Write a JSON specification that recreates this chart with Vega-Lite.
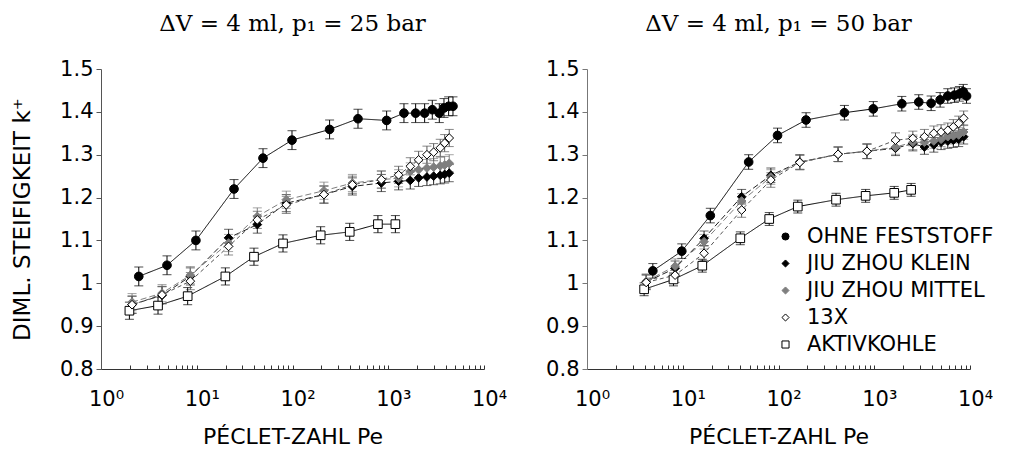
{
  "$schema": "https://vega.github.io/schema/vega-lite/v6.json",
  "background": "white",
  "padding": {"left": 11, "top": 13, "right": 5, "bottom": 3},
  "bounds": "flush",
  "spacing": 103,
  "config": {
    "view": {"stroke": null},
    "font": "DejaVu Sans",
    "axis": {"grid": false, "labelColor": "black", "titleColor": "black", "titleFontWeight": "normal", "labelFont": "DejaVu Sans", "titleFont": "DejaVu Sans"}
  },
  "data": {"values": [
    {"panel": "L", "series": "OHNE FESTSTOFF", "pe": 2.48, "k": 1.016, "err": 0.022},
    {"panel": "L", "series": "OHNE FESTSTOFF", "pe": 4.89, "k": 1.042, "err": 0.022},
    {"panel": "L", "series": "OHNE FESTSTOFF", "pe": 9.8, "k": 1.1, "err": 0.022},
    {"panel": "L", "series": "OHNE FESTSTOFF", "pe": 24.5, "k": 1.22, "err": 0.022},
    {"panel": "L", "series": "OHNE FESTSTOFF", "pe": 49.2, "k": 1.292, "err": 0.022},
    {"panel": "L", "series": "OHNE FESTSTOFF", "pe": 98.8, "k": 1.334, "err": 0.022},
    {"panel": "L", "series": "OHNE FESTSTOFF", "pe": 244, "k": 1.359, "err": 0.022},
    {"panel": "L", "series": "OHNE FESTSTOFF", "pe": 483, "k": 1.384, "err": 0.022},
    {"panel": "L", "series": "OHNE FESTSTOFF", "pe": 962, "k": 1.38, "err": 0.022},
    {"panel": "L", "series": "OHNE FESTSTOFF", "pe": 1459, "k": 1.397, "err": 0.022},
    {"panel": "L", "series": "OHNE FESTSTOFF", "pe": 1932, "k": 1.397, "err": 0.022},
    {"panel": "L", "series": "OHNE FESTSTOFF", "pe": 2399, "k": 1.397, "err": 0.022},
    {"panel": "L", "series": "OHNE FESTSTOFF", "pe": 2884, "k": 1.405, "err": 0.022},
    {"panel": "L", "series": "OHNE FESTSTOFF", "pe": 3413, "k": 1.397, "err": 0.022},
    {"panel": "L", "series": "OHNE FESTSTOFF", "pe": 3820, "k": 1.409, "err": 0.022},
    {"panel": "L", "series": "OHNE FESTSTOFF", "pe": 4272, "k": 1.413, "err": 0.022},
    {"panel": "L", "series": "OHNE FESTSTOFF", "pe": 4743, "k": 1.413, "err": 0.022},
    {"panel": "L", "series": "AKTIVKOHLE", "pe": 1.98, "k": 0.936, "err": 0.02},
    {"panel": "L", "series": "AKTIVKOHLE", "pe": 3.94, "k": 0.948, "err": 0.02},
    {"panel": "L", "series": "AKTIVKOHLE", "pe": 8.04, "k": 0.97, "err": 0.02},
    {"panel": "L", "series": "AKTIVKOHLE", "pe": 19.9, "k": 1.016, "err": 0.02},
    {"panel": "L", "series": "AKTIVKOHLE", "pe": 39.6, "k": 1.062, "err": 0.02},
    {"panel": "L", "series": "AKTIVKOHLE", "pe": 79.6, "k": 1.093, "err": 0.02},
    {"panel": "L", "series": "AKTIVKOHLE", "pe": 197, "k": 1.112, "err": 0.02},
    {"panel": "L", "series": "AKTIVKOHLE", "pe": 396, "k": 1.12, "err": 0.02},
    {"panel": "L", "series": "AKTIVKOHLE", "pe": 780, "k": 1.138, "err": 0.02},
    {"panel": "L", "series": "AKTIVKOHLE", "pe": 1187, "k": 1.138, "err": 0.02},
    {"panel": "L", "series": "JIU ZHOU KLEIN", "pe": 2.11, "k": 0.95, "err": 0.02},
    {"panel": "L", "series": "JIU ZHOU KLEIN", "pe": 4.34, "k": 0.972, "err": 0.02},
    {"panel": "L", "series": "JIU ZHOU KLEIN", "pe": 8.57, "k": 1.016, "err": 0.02},
    {"panel": "L", "series": "JIU ZHOU KLEIN", "pe": 21.5, "k": 1.106, "err": 0.02},
    {"panel": "L", "series": "JIU ZHOU KLEIN", "pe": 42.9, "k": 1.137, "err": 0.02},
    {"panel": "L", "series": "JIU ZHOU KLEIN", "pe": 86.1, "k": 1.187, "err": 0.02},
    {"panel": "L", "series": "JIU ZHOU KLEIN", "pe": 213, "k": 1.207, "err": 0.02},
    {"panel": "L", "series": "JIU ZHOU KLEIN", "pe": 422, "k": 1.226, "err": 0.02},
    {"panel": "L", "series": "JIU ZHOU KLEIN", "pe": 847, "k": 1.234, "err": 0.02},
    {"panel": "L", "series": "JIU ZHOU KLEIN", "pe": 1282, "k": 1.238, "err": 0.02},
    {"panel": "L", "series": "JIU ZHOU KLEIN", "pe": 1698, "k": 1.24, "err": 0.02},
    {"panel": "L", "series": "JIU ZHOU KLEIN", "pe": 2076, "k": 1.246, "err": 0.02},
    {"panel": "L", "series": "JIU ZHOU KLEIN", "pe": 2535, "k": 1.248, "err": 0.02},
    {"panel": "L", "series": "JIU ZHOU KLEIN", "pe": 2978, "k": 1.25, "err": 0.02},
    {"panel": "L", "series": "JIU ZHOU KLEIN", "pe": 3491, "k": 1.252, "err": 0.02},
    {"panel": "L", "series": "JIU ZHOU KLEIN", "pe": 3882, "k": 1.254, "err": 0.02},
    {"panel": "L", "series": "JIU ZHOU KLEIN", "pe": 4335, "k": 1.257, "err": 0.02},
    {"panel": "L", "series": "JIU ZHOU MITTEL", "pe": 2.11, "k": 0.956, "err": 0.02},
    {"panel": "L", "series": "JIU ZHOU MITTEL", "pe": 4.34, "k": 0.977, "err": 0.02},
    {"panel": "L", "series": "JIU ZHOU MITTEL", "pe": 8.57, "k": 1.019, "err": 0.02},
    {"panel": "L", "series": "JIU ZHOU MITTEL", "pe": 21.5, "k": 1.094, "err": 0.02},
    {"panel": "L", "series": "JIU ZHOU MITTEL", "pe": 42.9, "k": 1.156, "err": 0.02},
    {"panel": "L", "series": "JIU ZHOU MITTEL", "pe": 86.1, "k": 1.195, "err": 0.02},
    {"panel": "L", "series": "JIU ZHOU MITTEL", "pe": 213, "k": 1.216, "err": 0.02},
    {"panel": "L", "series": "JIU ZHOU MITTEL", "pe": 422, "k": 1.234, "err": 0.02},
    {"panel": "L", "series": "JIU ZHOU MITTEL", "pe": 847, "k": 1.242, "err": 0.02},
    {"panel": "L", "series": "JIU ZHOU MITTEL", "pe": 1282, "k": 1.245, "err": 0.02},
    {"panel": "L", "series": "JIU ZHOU MITTEL", "pe": 1698, "k": 1.261, "err": 0.02},
    {"panel": "L", "series": "JIU ZHOU MITTEL", "pe": 2076, "k": 1.265, "err": 0.02},
    {"panel": "L", "series": "JIU ZHOU MITTEL", "pe": 2535, "k": 1.269, "err": 0.02},
    {"panel": "L", "series": "JIU ZHOU MITTEL", "pe": 2978, "k": 1.271, "err": 0.02},
    {"panel": "L", "series": "JIU ZHOU MITTEL", "pe": 3491, "k": 1.274, "err": 0.02},
    {"panel": "L", "series": "JIU ZHOU MITTEL", "pe": 3882, "k": 1.276, "err": 0.02},
    {"panel": "L", "series": "JIU ZHOU MITTEL", "pe": 4335, "k": 1.28, "err": 0.02},
    {"panel": "L", "series": "13X", "pe": 2.11, "k": 0.95, "err": 0.02},
    {"panel": "L", "series": "13X", "pe": 4.34, "k": 0.973, "err": 0.02},
    {"panel": "L", "series": "13X", "pe": 8.57, "k": 1.005, "err": 0.02},
    {"panel": "L", "series": "13X", "pe": 21.5, "k": 1.086, "err": 0.02},
    {"panel": "L", "series": "13X", "pe": 42.9, "k": 1.148, "err": 0.02},
    {"panel": "L", "series": "13X", "pe": 86.1, "k": 1.183, "err": 0.02},
    {"panel": "L", "series": "13X", "pe": 213, "k": 1.207, "err": 0.02},
    {"panel": "L", "series": "13X", "pe": 422, "k": 1.23, "err": 0.02},
    {"panel": "L", "series": "13X", "pe": 847, "k": 1.242, "err": 0.02},
    {"panel": "L", "series": "13X", "pe": 1282, "k": 1.253, "err": 0.02},
    {"panel": "L", "series": "13X", "pe": 1698, "k": 1.273, "err": 0.02},
    {"panel": "L", "series": "13X", "pe": 2076, "k": 1.288, "err": 0.02},
    {"panel": "L", "series": "13X", "pe": 2535, "k": 1.3, "err": 0.02},
    {"panel": "L", "series": "13X", "pe": 2978, "k": 1.306, "err": 0.02},
    {"panel": "L", "series": "13X", "pe": 3491, "k": 1.316, "err": 0.02},
    {"panel": "L", "series": "13X", "pe": 3882, "k": 1.327, "err": 0.02},
    {"panel": "L", "series": "13X", "pe": 4335, "k": 1.339, "err": 0.02},
    {"panel": "R", "series": "OHNE FESTSTOFF", "pe": 4.87, "k": 1.029, "err": 0.017},
    {"panel": "R", "series": "OHNE FESTSTOFF", "pe": 9.77, "k": 1.075, "err": 0.017},
    {"panel": "R", "series": "OHNE FESTSTOFF", "pe": 19.4, "k": 1.158, "err": 0.017},
    {"panel": "R", "series": "OHNE FESTSTOFF", "pe": 48.8, "k": 1.283, "err": 0.017},
    {"panel": "R", "series": "OHNE FESTSTOFF", "pe": 97.7, "k": 1.345, "err": 0.017},
    {"panel": "R", "series": "OHNE FESTSTOFF", "pe": 194, "k": 1.381, "err": 0.017},
    {"panel": "R", "series": "OHNE FESTSTOFF", "pe": 488, "k": 1.398, "err": 0.017},
    {"panel": "R", "series": "OHNE FESTSTOFF", "pe": 977, "k": 1.407, "err": 0.017},
    {"panel": "R", "series": "OHNE FESTSTOFF", "pe": 1941, "k": 1.419, "err": 0.017},
    {"panel": "R", "series": "OHNE FESTSTOFF", "pe": 2917, "k": 1.423, "err": 0.017},
    {"panel": "R", "series": "OHNE FESTSTOFF", "pe": 3926, "k": 1.42, "err": 0.017},
    {"panel": "R", "series": "OHNE FESTSTOFF", "pe": 4875, "k": 1.428, "err": 0.017},
    {"panel": "R", "series": "OHNE FESTSTOFF", "pe": 5861, "k": 1.437, "err": 0.017},
    {"panel": "R", "series": "OHNE FESTSTOFF", "pe": 6871, "k": 1.439, "err": 0.017},
    {"panel": "R", "series": "OHNE FESTSTOFF", "pe": 7745, "k": 1.442, "err": 0.017},
    {"panel": "R", "series": "OHNE FESTSTOFF", "pe": 8500, "k": 1.447, "err": 0.017},
    {"panel": "R", "series": "OHNE FESTSTOFF", "pe": 9200, "k": 1.437, "err": 0.017},
    {"panel": "R", "series": "AKTIVKOHLE", "pe": 3.95, "k": 0.986, "err": 0.015},
    {"panel": "R", "series": "AKTIVKOHLE", "pe": 8.0, "k": 1.009, "err": 0.015},
    {"panel": "R", "series": "AKTIVKOHLE", "pe": 16.0, "k": 1.041, "err": 0.015},
    {"panel": "R", "series": "AKTIVKOHLE", "pe": 39.9, "k": 1.105, "err": 0.015},
    {"panel": "R", "series": "AKTIVKOHLE", "pe": 80.0, "k": 1.15, "err": 0.015},
    {"panel": "R", "series": "AKTIVKOHLE", "pe": 159, "k": 1.179, "err": 0.015},
    {"panel": "R", "series": "AKTIVKOHLE", "pe": 399, "k": 1.195, "err": 0.015},
    {"panel": "R", "series": "AKTIVKOHLE", "pe": 813, "k": 1.204, "err": 0.015},
    {"panel": "R", "series": "AKTIVKOHLE", "pe": 1616, "k": 1.211, "err": 0.015},
    {"panel": "R", "series": "AKTIVKOHLE", "pe": 2427, "k": 1.218, "err": 0.015},
    {"panel": "R", "series": "JIU ZHOU KLEIN", "pe": 4.15, "k": 1.003, "err": 0.017},
    {"panel": "R", "series": "JIU ZHOU KLEIN", "pe": 8.32, "k": 1.035, "err": 0.017},
    {"panel": "R", "series": "JIU ZHOU KLEIN", "pe": 16.7, "k": 1.105, "err": 0.017},
    {"panel": "R", "series": "JIU ZHOU KLEIN", "pe": 41.2, "k": 1.202, "err": 0.017},
    {"panel": "R", "series": "JIU ZHOU KLEIN", "pe": 83.2, "k": 1.252, "err": 0.017},
    {"panel": "R", "series": "JIU ZHOU KLEIN", "pe": 167, "k": 1.283, "err": 0.017},
    {"panel": "R", "series": "JIU ZHOU KLEIN", "pe": 419, "k": 1.301, "err": 0.017},
    {"panel": "R", "series": "JIU ZHOU KLEIN", "pe": 839, "k": 1.308, "err": 0.017},
    {"panel": "R", "series": "JIU ZHOU KLEIN", "pe": 1667, "k": 1.315, "err": 0.017},
    {"panel": "R", "series": "JIU ZHOU KLEIN", "pe": 2529, "k": 1.326, "err": 0.017},
    {"panel": "R", "series": "JIU ZHOU KLEIN", "pe": 3342, "k": 1.318, "err": 0.017},
    {"panel": "R", "series": "JIU ZHOU KLEIN", "pe": 4188, "k": 1.323, "err": 0.017},
    {"panel": "R", "series": "JIU ZHOU KLEIN", "pe": 4989, "k": 1.329, "err": 0.017},
    {"panel": "R", "series": "JIU ZHOU KLEIN", "pe": 5861, "k": 1.332, "err": 0.017},
    {"panel": "R", "series": "JIU ZHOU KLEIN", "pe": 6699, "k": 1.334, "err": 0.017},
    {"panel": "R", "series": "JIU ZHOU KLEIN", "pe": 7621, "k": 1.336, "err": 0.017},
    {"panel": "R", "series": "JIU ZHOU KLEIN", "pe": 8590, "k": 1.342, "err": 0.017},
    {"panel": "R", "series": "JIU ZHOU MITTEL", "pe": 4.15, "k": 1.005, "err": 0.017},
    {"panel": "R", "series": "JIU ZHOU MITTEL", "pe": 8.32, "k": 1.04, "err": 0.017},
    {"panel": "R", "series": "JIU ZHOU MITTEL", "pe": 16.7, "k": 1.097, "err": 0.017},
    {"panel": "R", "series": "JIU ZHOU MITTEL", "pe": 41.2, "k": 1.192, "err": 0.017},
    {"panel": "R", "series": "JIU ZHOU MITTEL", "pe": 83.2, "k": 1.248, "err": 0.017},
    {"panel": "R", "series": "JIU ZHOU MITTEL", "pe": 167, "k": 1.282, "err": 0.017},
    {"panel": "R", "series": "JIU ZHOU MITTEL", "pe": 419, "k": 1.301, "err": 0.017},
    {"panel": "R", "series": "JIU ZHOU MITTEL", "pe": 839, "k": 1.308, "err": 0.017},
    {"panel": "R", "series": "JIU ZHOU MITTEL", "pe": 1667, "k": 1.318, "err": 0.017},
    {"panel": "R", "series": "JIU ZHOU MITTEL", "pe": 2529, "k": 1.329, "err": 0.017},
    {"panel": "R", "series": "JIU ZHOU MITTEL", "pe": 3342, "k": 1.329, "err": 0.017},
    {"panel": "R", "series": "JIU ZHOU MITTEL", "pe": 4188, "k": 1.332, "err": 0.017},
    {"panel": "R", "series": "JIU ZHOU MITTEL", "pe": 4989, "k": 1.336, "err": 0.017},
    {"panel": "R", "series": "JIU ZHOU MITTEL", "pe": 5861, "k": 1.342, "err": 0.017},
    {"panel": "R", "series": "JIU ZHOU MITTEL", "pe": 6699, "k": 1.344, "err": 0.017},
    {"panel": "R", "series": "JIU ZHOU MITTEL", "pe": 7621, "k": 1.346, "err": 0.017},
    {"panel": "R", "series": "JIU ZHOU MITTEL", "pe": 8590, "k": 1.353, "err": 0.017},
    {"panel": "R", "series": "13X", "pe": 4.15, "k": 1.002, "err": 0.017},
    {"panel": "R", "series": "13X", "pe": 8.32, "k": 1.019, "err": 0.017},
    {"panel": "R", "series": "13X", "pe": 16.7, "k": 1.07, "err": 0.017},
    {"panel": "R", "series": "13X", "pe": 41.2, "k": 1.171, "err": 0.017},
    {"panel": "R", "series": "13X", "pe": 83.2, "k": 1.241, "err": 0.017},
    {"panel": "R", "series": "13X", "pe": 167, "k": 1.282, "err": 0.017},
    {"panel": "R", "series": "13X", "pe": 419, "k": 1.301, "err": 0.017},
    {"panel": "R", "series": "13X", "pe": 839, "k": 1.308, "err": 0.017},
    {"panel": "R", "series": "13X", "pe": 1667, "k": 1.334, "err": 0.017},
    {"panel": "R", "series": "13X", "pe": 2529, "k": 1.338, "err": 0.017},
    {"panel": "R", "series": "13X", "pe": 3342, "k": 1.342, "err": 0.017},
    {"panel": "R", "series": "13X", "pe": 4188, "k": 1.35, "err": 0.017},
    {"panel": "R", "series": "13X", "pe": 4989, "k": 1.353, "err": 0.017},
    {"panel": "R", "series": "13X", "pe": 5861, "k": 1.357, "err": 0.017},
    {"panel": "R", "series": "13X", "pe": 6699, "k": 1.365, "err": 0.017},
    {"panel": "R", "series": "13X", "pe": 7621, "k": 1.373, "err": 0.017},
    {"panel": "R", "series": "13X", "pe": 8590, "k": 1.385, "err": 0.017}
  ]},
  "hconcat": [
    {
      "width": 383,
      "height": 300,
      "title": {"text": "ΔV = 4 ml, p₁ = 25 bar", "font": "DejaVu Serif", "fontSize": 23, "fontWeight": "normal", "color": "black", "offset": 22},
      "transform": [{"filter": "datum.panel == 'L'"}],
      "encoding": {
        "x": {"field": "pe", "type": "quantitative", "scale": {"type": "log", "domain": [1, 10000]},
          "axis": {"values": [1,2,3,4,5,6,7,8,9,10,20,30,40,50,60,70,80,90,100,200,300,400,500,600,700,800,900,1000,2000,3000,4000,5000,6000,7000,8000,9000,10000],
            "labelExpr": "datum.value == 1 ? '10⁰' : datum.value == 10 ? '10¹' : datum.value == 100 ? '10²' : datum.value == 1000 ? '10³' : datum.value == 10000 ? '10⁴' : ''",
            "labelFlush": false, "labelOverlap": false, "labelFontSize": 21, "labelOffset": 5, "labelPadding": 23,
            "tickSize": -4, "tickColor": "#333", "domainColor": "#333",
            "title": "PÉCLET-ZAHL Pe", "titleFontSize": 22, "titlePadding": 17}},
        "y": {"field": "k", "type": "quantitative", "scale": {"domain": [0.8, 1.5], "nice": false, "zero": false},
          "axis": {"values": [0.8, 0.9, 1, 1.1, 1.2, 1.3, 1.4, 1.5], "labelExpr": "format(datum.value, '~g')",
            "labelFontSize": 21, "labelPadding": 3, "tickSize": 5, "tickColor": "#555", "domainColor": "#555",
            "title": "DIML. STEIFIGKEIT k⁺", "titleFontSize": 23, "titlePadding": 25}}
      },
      "layer": [
        {"mark": {"type": "line", "strokeWidth": 1},
          "encoding": {
            "color": {"field": "series", "type": "nominal", "legend": null, "scale": {"domain": ["AKTIVKOHLE", "13X", "JIU ZHOU MITTEL", "JIU ZHOU KLEIN", "OHNE FESTSTOFF"], "range": ["black", "#555555", "#7f7f7f", "#222222", "black"]}},
            "strokeDash": {"field": "series", "type": "nominal", "legend": null, "scale": {"domain": ["AKTIVKOHLE", "13X", "JIU ZHOU MITTEL", "JIU ZHOU KLEIN", "OHNE FESTSTOFF"], "range": [[1, 0], [4, 3], [6, 3], [6, 3], [1, 0]]}}
          }},
        {"mark": {"type": "errorbar", "ticks": {"size": 9}, "thickness": 1},
          "encoding": {
            "yError": {"field": "err"},
            "color": {"field": "series", "type": "nominal", "legend": null}
          }},
        {"mark": {"type": "point", "filled": true, "size": 75, "opacity": 1, "strokeWidth": 1},
          "encoding": {
            "shape": {"field": "series", "type": "nominal", "title": null, "scale": {"domain": ["OHNE FESTSTOFF", "JIU ZHOU KLEIN", "JIU ZHOU MITTEL", "13X", "AKTIVKOHLE"], "range": ["circle", "diamond", "diamond", "diamond", "square"]},
              "legend": {"orient": "none", "legendX": 674, "legendY": 157, "labelFontSize": 21, "labelFont": "DejaVu Sans", "labelColor": "black", "labelLimit": 400, "symbolSize": 50, "rowPadding": 5, "labelOffset": 11, "symbolStrokeWidth": 1}},
            "fill": {"field": "series", "type": "nominal", "title": null, "scale": {"domain": ["OHNE FESTSTOFF", "JIU ZHOU KLEIN", "JIU ZHOU MITTEL", "13X", "AKTIVKOHLE"], "range": ["black", "black", "#7f7f7f", "white", "white"]},
              "legend": {"orient": "none", "legendX": 674, "legendY": 157, "labelFontSize": 21, "labelFont": "DejaVu Sans", "labelColor": "black", "labelLimit": 400, "symbolSize": 50, "rowPadding": 5, "labelOffset": 11, "symbolStrokeWidth": 1}},
            "stroke": {"field": "series", "type": "nominal", "title": null, "scale": {"domain": ["OHNE FESTSTOFF", "JIU ZHOU KLEIN", "JIU ZHOU MITTEL", "13X", "AKTIVKOHLE"], "range": ["black", "black", "#7f7f7f", "black", "black"]},
              "legend": {"orient": "none", "legendX": 674, "legendY": 157, "labelFontSize": 21, "labelFont": "DejaVu Sans", "labelColor": "black", "labelLimit": 400, "symbolSize": 50, "rowPadding": 5, "labelOffset": 11, "symbolStrokeWidth": 1}}
          }}
      ]
    },
    {
      "width": 383,
      "height": 300,
      "title": {"text": "ΔV = 4 ml, p₁ = 50 bar", "font": "DejaVu Serif", "fontSize": 23, "fontWeight": "normal", "color": "black", "offset": 22},
      "transform": [{"filter": "datum.panel == 'R'"}],
      "encoding": {
        "x": {"field": "pe", "type": "quantitative", "scale": {"type": "log", "domain": [1, 10000]},
          "axis": {"values": [1,2,3,4,5,6,7,8,9,10,20,30,40,50,60,70,80,90,100,200,300,400,500,600,700,800,900,1000,2000,3000,4000,5000,6000,7000,8000,9000,10000],
            "labelExpr": "datum.value == 1 ? '10⁰' : datum.value == 10 ? '10¹' : datum.value == 100 ? '10²' : datum.value == 1000 ? '10³' : datum.value == 10000 ? '10⁴' : ''",
            "labelFlush": false, "labelOverlap": false, "labelFontSize": 21, "labelOffset": 5, "labelPadding": 23,
            "tickSize": -4, "tickColor": "#333", "domainColor": "#333",
            "title": "PÉCLET-ZAHL Pe", "titleFontSize": 22, "titlePadding": 17}},
        "y": {"field": "k", "type": "quantitative", "scale": {"domain": [0.8, 1.5], "nice": false, "zero": false},
          "axis": {"values": [0.8, 0.9, 1, 1.1, 1.2, 1.3, 1.4, 1.5], "labelExpr": "format(datum.value, '~g')",
            "labelFontSize": 21, "labelPadding": 3, "tickSize": 5, "tickColor": "#777", "domainColor": "#777",
            "title": null}}
      },
      "layer": [
        {"mark": {"type": "line", "strokeWidth": 1},
          "encoding": {
            "color": {"field": "series", "type": "nominal", "legend": null, "scale": {"domain": ["AKTIVKOHLE", "13X", "JIU ZHOU MITTEL", "JIU ZHOU KLEIN", "OHNE FESTSTOFF"], "range": ["black", "#555555", "#7f7f7f", "#222222", "black"]}},
            "strokeDash": {"field": "series", "type": "nominal", "legend": null, "scale": {"domain": ["AKTIVKOHLE", "13X", "JIU ZHOU MITTEL", "JIU ZHOU KLEIN", "OHNE FESTSTOFF"], "range": [[1, 0], [4, 3], [6, 3], [6, 3], [1, 0]]}}
          }},
        {"mark": {"type": "errorbar", "ticks": {"size": 9}, "thickness": 1},
          "encoding": {
            "yError": {"field": "err"},
            "color": {"field": "series", "type": "nominal", "legend": null}
          }},
        {"mark": {"type": "point", "filled": true, "size": 75, "opacity": 1, "strokeWidth": 1},
          "encoding": {
            "shape": {"field": "series", "type": "nominal", "title": null, "scale": {"domain": ["OHNE FESTSTOFF", "JIU ZHOU KLEIN", "JIU ZHOU MITTEL", "13X", "AKTIVKOHLE"], "range": ["circle", "diamond", "diamond", "diamond", "square"]},
              "legend": {"orient": "none", "legendX": 674, "legendY": 157, "labelFontSize": 21, "labelFont": "DejaVu Sans", "labelColor": "black", "labelLimit": 400, "symbolSize": 50, "rowPadding": 5, "labelOffset": 11, "symbolStrokeWidth": 1}},
            "fill": {"field": "series", "type": "nominal", "title": null, "scale": {"domain": ["OHNE FESTSTOFF", "JIU ZHOU KLEIN", "JIU ZHOU MITTEL", "13X", "AKTIVKOHLE"], "range": ["black", "black", "#7f7f7f", "white", "white"]},
              "legend": {"orient": "none", "legendX": 674, "legendY": 157, "labelFontSize": 21, "labelFont": "DejaVu Sans", "labelColor": "black", "labelLimit": 400, "symbolSize": 50, "rowPadding": 5, "labelOffset": 11, "symbolStrokeWidth": 1}},
            "stroke": {"field": "series", "type": "nominal", "title": null, "scale": {"domain": ["OHNE FESTSTOFF", "JIU ZHOU KLEIN", "JIU ZHOU MITTEL", "13X", "AKTIVKOHLE"], "range": ["black", "black", "#7f7f7f", "black", "black"]},
              "legend": {"orient": "none", "legendX": 674, "legendY": 157, "labelFontSize": 21, "labelFont": "DejaVu Sans", "labelColor": "black", "labelLimit": 400, "symbolSize": 50, "rowPadding": 5, "labelOffset": 11, "symbolStrokeWidth": 1}}
          }}
      ]
    }
  ]
}
